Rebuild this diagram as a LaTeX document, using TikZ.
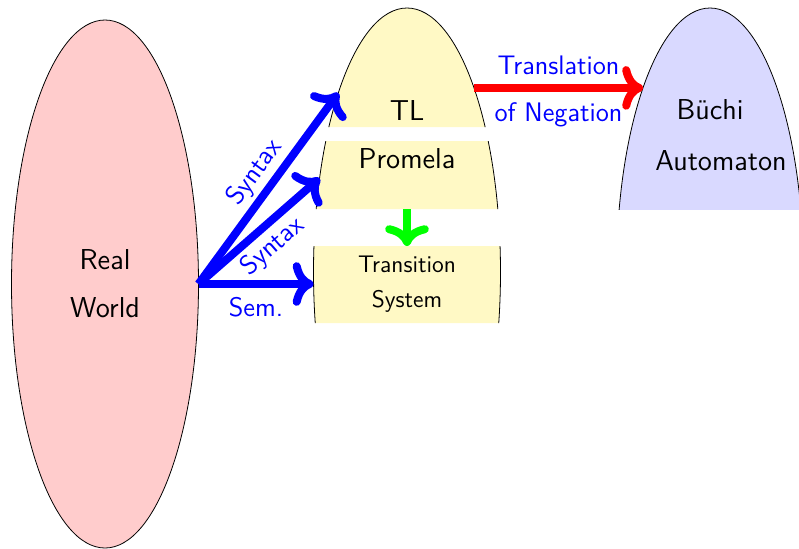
\documentclass[tikz,border=0pt]{standalone}
\usepackage{fontspec}
\usepackage{tikz}
\usetikzlibrary{shapes.geometric,arrows.meta,positioning}
\definecolor{tlyellow}{RGB}{255,249,197}

\begin{document}
\begin{tikzpicture}[
    x=0.5pt,y=-0.5pt,
    world/.style={ellipse,draw=black,minimum width=93.5pt,minimum height=264pt,
                  inner sep=0pt,outer sep=0pt,align=center,font=\sffamily\Large},
    bigtext/.style={font=\sffamily\Large,align=center},
    smalltext/.style={font=\sffamily\large,align=center},
    arrlabel/.style={font=\sffamily\fontsize{13.4}{16}\selectfont,text=blue},
    arrow/.style={->,line width=4pt}
]
\useasboundingbox (0,0) rectangle (799,548);

% the three worlds
\node[world,fill=red!20] (real) at (105,284) {Real\\[6pt]World};
\begin{scope}
  \clip (0,0) rectangle (799,127) (0,141) rectangle (799,209) (0,246) rectangle (799,323);
  \node[world,fill=tlyellow] (model) at (407,272) {};
\end{scope}
\begin{scope}
  \clip (0,0) rectangle (799,209);
  \node[world,fill=blue!15] (auto) at (710,272) {};
\end{scope}

\node[bigtext] (tl) at (407,110) {TL};
\node[bigtext] (promela) at (407,159) {Promela};
\node[smalltext] (ts) at (407,284.5) {Transition\\[3.5pt]System};
\node[bigtext] (buchi) at (710,110) {Büchi};
\node[bigtext] (automaton) at (721,161) {Automaton};

\coordinate (cut) at (407,209);
\coordinate (systop) at (407,246);

% arrows
\draw[arrow,blue] (real.east) -- node[arrlabel,sloped,above=-1.5pt,pos=0.52] (syn1) {Syntax} (model.111);
\draw[arrow,blue] (real.east) -- node[arrlabel,sloped,below=-1pt] (syn2) {Syntax} (model.133);
\draw[arrow,blue] (real.east) -- node[arrlabel,below=1.3pt,pos=0.5] (sem) {Sem.} (real.east -| model.west);
\draw[arrow,green] (cut) -- (systop);
\draw[arrow,red] (model.70) -- node[arrlabel,above=1.4pt] (trans) {Translation}
    node[arrlabel,below=1.8pt] (neg) {of Negation} (auto.110);
\end{tikzpicture}
\end{document}
